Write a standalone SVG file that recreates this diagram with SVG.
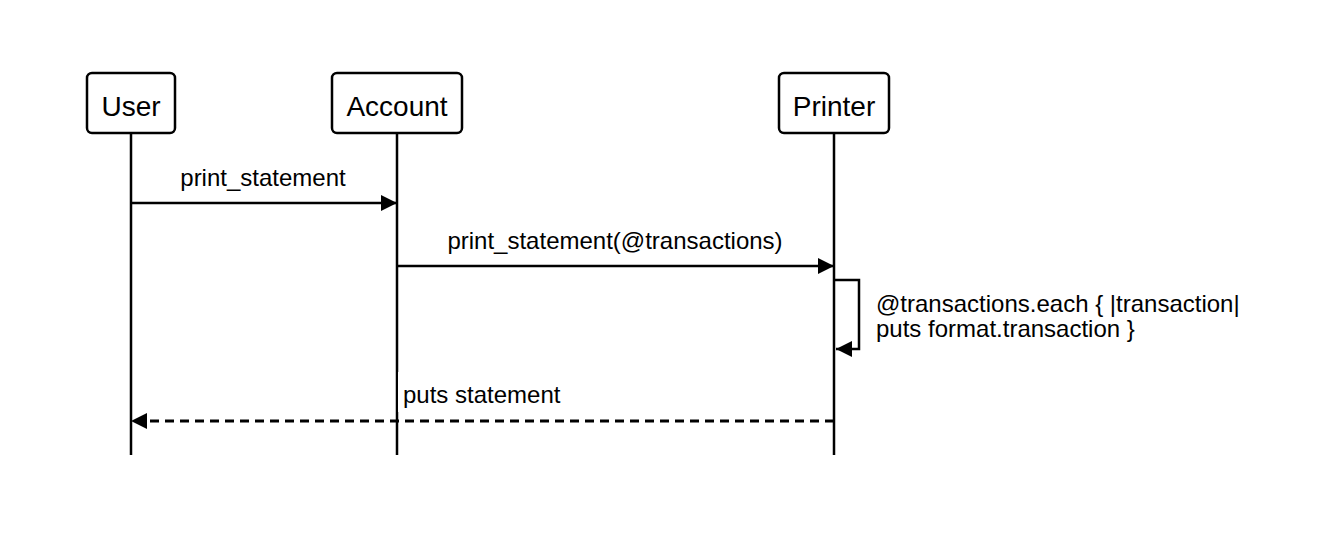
<svg xmlns="http://www.w3.org/2000/svg" width="1336" height="558" viewBox="0 0 1336 558">
<style>
.box{fill:#fff;stroke:#000;stroke-width:2.5}
.life{stroke:#000;stroke-width:2.5;fill:none}
.msg{stroke:#000;stroke-width:2.5;fill:none}
.dash{stroke-dasharray:9 6;stroke-width:3}
text{font-family:"Liberation Sans",Arial,sans-serif;font-size:24px;fill:#000}
.n{font-size:28px}
.c{text-anchor:middle}
</style>
<defs>
<marker id="ah" viewBox="0 0 16 16" refX="16" refY="8" markerWidth="16" markerHeight="16" markerUnits="userSpaceOnUse" orient="auto">
<path d="M0,0 L16,8 L0,16 Z" fill="#000"/>
</marker>
</defs>
<rect width="1336" height="558" fill="#fff"/>
<g id="lifelines">
<line class="life" x1="131" y1="133" x2="131" y2="455"/>
<line class="life" x1="397" y1="133" x2="397" y2="455"/>
<line class="life" x1="834" y1="133" x2="834" y2="455"/>
</g>
<g id="User"><rect class="box" x="87" y="73" width="88" height="60" rx="5"/><text class="c n" x="131" y="116">User</text></g>
<g id="Account"><rect class="box" x="332" y="73" width="130" height="60" rx="5"/><text class="c n" x="397" y="116">Account</text></g>
<g id="Printer"><rect class="box" x="779" y="73" width="110" height="60" rx="5"/><text class="c n" x="834" y="116">Printer</text></g>
<g id="connectors">
<line class="msg" x1="131" y1="203" x2="397" y2="203" marker-end="url(#ah)"/>
<text class="c" x="263" y="186">print_statement</text>
<line class="msg" x1="397" y1="266" x2="834" y2="266" marker-end="url(#ah)"/>
<text class="c" x="615" y="249">print_statement(@transactions)</text>
<polyline class="msg" points="835,280 859,280 859,349 836,349" marker-end="url(#ah)"/>
<text x="876" y="312">@transactions.each { |transaction|</text>
<text x="876" y="337">puts format.transaction }</text>
<rect x="398" y="372" width="168" height="40" fill="#fff"/>
<text x="403" y="403">puts statement</text>
<line class="msg dash" x1="834" y1="421" x2="131" y2="421" marker-end="url(#ah)"/>
</g>
</svg>
